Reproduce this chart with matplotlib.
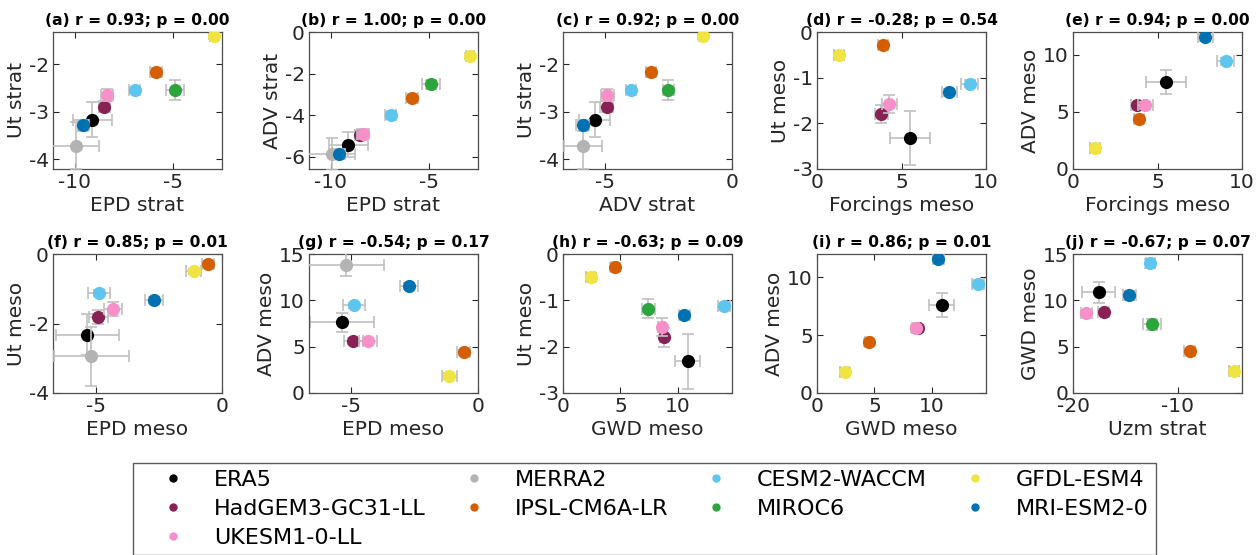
import numpy as np
import matplotlib
matplotlib.use("Agg")
import matplotlib.pyplot as plt
from matplotlib.lines import Line2D

nan = np.nan

models = ['ERA5', 'MERRA2', 'CESM2-WACCM', 'GFDL-ESM4', 'HadGEM3-GC31-LL',
          'IPSL-CM6A-LR', 'MIROC6', 'MRI-ESM2-0', 'UKESM1-0-LL']
colors = ['#000000', '#b3b3b3', '#5ec6ee', '#f0e442', '#882255',
          '#d55e00', '#2ca53c', '#0072b2', '#f78fc9']

epd_strat = [-9.10, -9.95, -6.95, -2.90, -8.48, -5.85, -4.90, -9.55, -8.35]
epd_strat_err = [1.0, 1.2, 0.3, 0.2, 0.3, 0.3, 0.45, 0.3, 0.3]
ut_strat = [-3.16, -3.71, -2.54, -1.41, -2.89, -2.17, -2.54, -3.28, -2.64]
ut_strat_err = [0.36, 0.5, 0.05, 0.05, 0.11, 0.1, 0.21, 0.12, 0.12]
adv_strat = [-5.42, -5.88, -3.99, -1.15, -4.95, -3.18, -2.51, -5.90, -4.92]
adv_strat_err = [0.6, 0.75, 0.2, 0.15, 0.25, 0.2, 0.22, 0.24, 0.25]
forc_meso = [5.50, nan, 9.05, 1.28, 3.81, 3.93, nan, 7.84, 4.27]
forc_meso_err = [1.2, nan, 0.5, 0.3, 0.4, 0.3, nan, 0.45, 0.45]
ut_meso = [-2.32, -2.94, -1.13, -0.50, -1.80, -0.28, -1.18, -1.32, -1.58]
ut_meso_err = [0.6, 0.85, 0.08, 0.08, 0.2, 0.08, 0.21, 0.08, 0.2]
adv_meso = [7.62, 13.85, 9.45, 1.84, 5.59, 4.39, nan, 11.55, 5.59]
adv_meso_err = [1.05, 1.25, 0.3, 0.3, 0.3, 0.3, nan, 0.3, 0.3]
epd_meso = [-5.35, -5.18, -4.88, -1.12, -4.90, -0.56, nan, -2.70, -4.32]
epd_meso_err = [1.25, 1.5, 0.44, 0.3, 0.37, 0.25, nan, 0.35, 0.37]
gwd_meso = [10.85, nan, 14.0, 2.42, 8.75, 4.50, 7.43, 10.55, 8.60]
gwd_meso_err = [1.1, nan, 0.5, 0.4, 0.3, 0.3, 0.6, 0.5, 0.3]
uzm_strat = [-17.55, nan, -12.61, -4.62, -17.07, -8.85, -12.42, -14.62, -18.73]
uzm_strat_err = [1.6, nan, 0.45, 0.5, 0.5, 0.5, 0.85, 0.6, 0.5]

titles = ['(a) r = 0.93; p = 0.00', '(b) r = 1.00; p = 0.00', '(c) r = 0.92; p = 0.00',
          '(d) r = -0.28; p = 0.54', '(e) r = 0.94; p = 0.00', '(f) r = 0.85; p = 0.01',
          '(g) r = -0.54; p = 0.17', '(h) r = -0.63; p = 0.09', '(i) r = 0.86; p = 0.01',
          '(j) r = -0.67; p = 0.07']

vars_ = {
    'EPD strat': (epd_strat, epd_strat_err),
    'Ut strat': (ut_strat, ut_strat_err),
    'ADV strat': (adv_strat, adv_strat_err),
    'Forcings meso': (forc_meso, forc_meso_err),
    'Ut meso': (ut_meso, ut_meso_err),
    'ADV meso': (adv_meso, adv_meso_err),
    'EPD meso': (epd_meso, epd_meso_err),
    'GWD meso': (gwd_meso, gwd_meso_err),
    'Uzm strat': (uzm_strat, uzm_strat_err),
}

panels = [
    ('EPD strat', 'Ut strat', (-11.1, -2.5), (-4.2, -1.32), [-10, -5], [-4, -3, -2]),
    ('EPD strat', 'ADV strat', (-11.1, -2.5), (-6.6, 0), [-10, -5], [-6, -4, -2, 0]),
    ('ADV strat', 'Ut strat', (-6.67, 0), (-4.2, -1.32), [-5, 0], [-4, -3, -2]),
    ('Forcings meso', 'Ut meso', (0, 10), (-3, 0), [0, 5, 10], [-3, -2, -1, 0]),
    ('Forcings meso', 'ADV meso', (0, 10), (0, 12), [0, 5, 10], [0, 5, 10]),
    ('EPD meso', 'Ut meso', (-6.7, 0), (-4, 0), [-5, 0], [-4, -2, 0]),
    ('EPD meso', 'ADV meso', (-6.64, 0), (0, 15), [-5, 0], [0, 5, 10, 15]),
    ('GWD meso', 'Ut meso', (0, 14.7), (-3, 0), [0, 5, 10], [-3, -2, -1, 0]),
    ('GWD meso', 'ADV meso', (0, 14.7), (0, 12), [0, 5, 10], [0, 5, 10]),
    ('Uzm strat', 'GWD meso', (-20, -3.85), (0, 15), [-20, -10], [0, 5, 10, 15]),
]

plt.rcParams['font.family'] = 'DejaVu Sans'
plt.rcParams['axes.unicode_minus'] = False

W, H = 1260, 555
fig = plt.figure(figsize=(W / 100, H / 100), dpi=100)

lefts = [53, 309, 563, 817, 1073]
rows = [(32, 169), (254, 393)]
axw = 169
txtc = '#262626'

for k, (xv, yv, xl, yl, xt, yt) in enumerate(panels):
    r, c = divmod(k, 5)
    top, bot = rows[r]
    ax = fig.add_axes([lefts[c] / W, 1 - bot / H, axw / W, (bot - top) / H])
    xs, xe = vars_[xv]
    ys, ye = vars_[yv]
    for i in range(len(models)):
        if np.isnan(xs[i]) or np.isnan(ys[i]):
            continue
        ax.errorbar(xs[i], ys[i], xerr=xe[i], yerr=ye[i], fmt='none',
                    ecolor='#c0c0c0', elinewidth=1.2, capsize=4, capthick=1.2,
                    zorder=2 + 2 * i)
        ax.plot(xs[i], ys[i], 'o', color=colors[i], markersize=9.5,
                markeredgewidth=0, zorder=3 + 2 * i)
    ax.set_xlim(xl)
    ax.set_ylim(yl)
    ax.set_xticks(xt)
    ax.set_yticks(yt)
    ax.tick_params(direction='in', length=4, width=0.8, top=True, right=True,
                   labelsize=14.5, colors=txtc, pad=3)
    for s in ax.spines.values():
        s.set_color('#4d4d4d')
        s.set_linewidth(0.9)
    ax.set_xlabel(xv, fontsize=14.5, color=txtc, labelpad=3)
    ax.set_ylabel(yv, fontsize=14.5, color=txtc, labelpad=2)
    ax.set_title(titles[k], fontsize=11.2, fontweight='bold', pad=5)

order = [0, 4, 8, 1, 5, 2, 6, 3, 7]
handles = [Line2D([], [], ls='none', marker='o', markersize=6,
                  color=colors[i], markeredgewidth=0) for i in order]
labels = [models[i] for i in order]
leg = fig.legend(handles, labels, loc='upper left', ncol=4,
                 bbox_to_anchor=(133 / W, 1 - 463 / H), fontsize=16,
                 frameon=True, fancybox=False, edgecolor='#333333',
                 borderpad=0.32, handlelength=3.0, handletextpad=0.32,
                 columnspacing=0.68, labelspacing=0.4, borderaxespad=0)
leg.get_frame().set_linewidth(1.0)

fig.savefig('out.png', dpi=100)
